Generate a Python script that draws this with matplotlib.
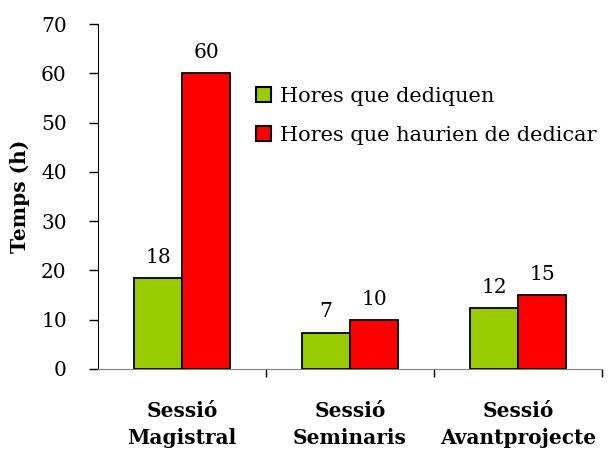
import numpy as np
import matplotlib
matplotlib.use("Agg")
from matplotlib import pyplot as plt
from matplotlib.patches import Patch

# dades
categories = ["Sessió\nMagistral", "Sessió\nSeminaris", "Sessió\nAvantprojecte"]
hores_dediquen = [18.4, 7.4, 12.3]
hores_haurien = [60, 10, 15]
labels_dediquen = ["18", "7", "12"]
labels_haurien = ["60", "10", "15"]

plt.rcParams['font.family'] = ['DejaVu Serif']
fs = 14.5

fig = plt.figure(figsize=(6.09, 4.62), dpi=100)
ax = fig.add_axes([0.161, 0.2013, 0.8275, 0.7467])

x = np.arange(len(categories))
w = 0.286
green = "#99CC00"
red = "#FF0000"

ax.bar(x - w / 2, hores_dediquen, w, color=green, edgecolor="black", linewidth=1.3)
ax.bar(x + w / 2, hores_haurien, w, color=red, edgecolor="black", linewidth=1.3)

for xi, v, t in zip(x - w / 2, hores_dediquen, labels_dediquen):
    ax.annotate(t, (xi, v), xytext=(0, 8), textcoords="offset points",
                ha="center", va="bottom", fontsize=fs)
for xi, v, t in zip(x + w / 2, hores_haurien, labels_haurien):
    ax.annotate(t, (xi, v), xytext=(0, 8), textcoords="offset points",
                ha="center", va="bottom", fontsize=fs)

ax.set_xlim(-0.5, 2.5)
ax.set_ylim(0, 70)
ax.set_yticks(range(0, 71, 10))
ax.tick_params(axis="y", direction="out", length=6.5, width=1, pad=16, labelsize=fs)

ax.set_xticks(x)
ax.set_xticklabels(categories, fontweight="bold", fontsize=fs, linespacing=1.45)
ax.tick_params(axis="x", which="major", length=0, pad=23)
ax.set_xticks([0.5, 1.5, 2.5], minor=True)
ax.tick_params(axis="x", which="minor", direction="out", length=6, width=1, color="black")

ax.spines["top"].set_visible(False)
ax.spines["right"].set_visible(False)
ax.spines["bottom"].set_color("#808080")
ax.spines["left"].set_color("black")

ax.set_ylabel("Temps (h)", fontweight="bold", fontsize=fs, labelpad=8)

handles = [Patch(facecolor=green, edgecolor="black", linewidth=1.5, label="Hores que dediquen"),
           Patch(facecolor=red, edgecolor="black", linewidth=1.5, label="Hores que haurien de dedicar")]
fig.legend(handles=handles, loc="upper left", bbox_to_anchor=(0.42, 0.812),
           frameon=False, fontsize=fs + 0.5, handlelength=0.75, handleheight=0.75,
           handletextpad=0.4, labelspacing=0.95, borderpad=0, borderaxespad=0)

fig.savefig("out.png", dpi=100)
